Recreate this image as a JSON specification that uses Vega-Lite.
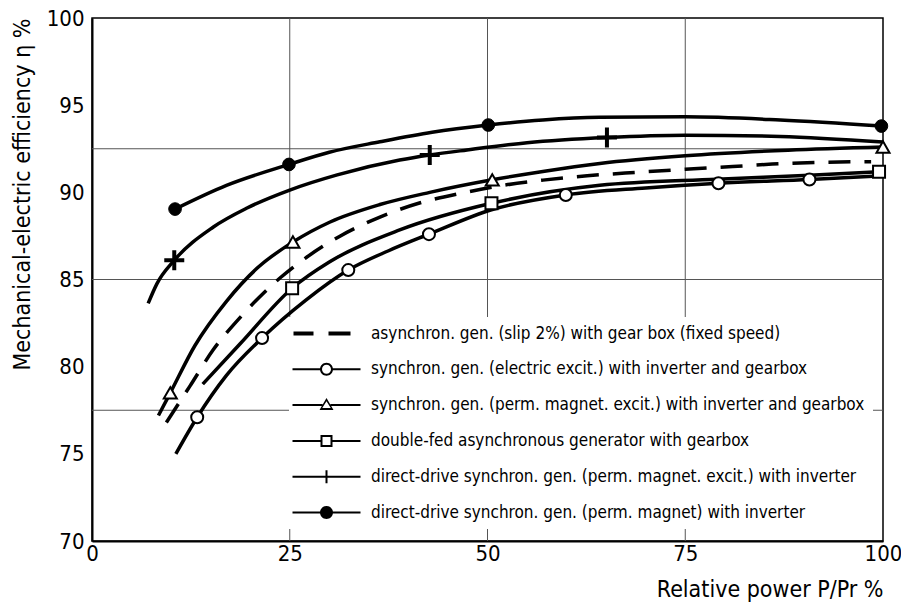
{
  "$schema": "https://vega.github.io/schema/vega-lite/v6.json",
  "width": 791,
  "height": 523,
  "autosize": {"type": "none"},
  "padding": {"left": 92, "top": 18, "right": 18, "bottom": 71},
  "background": "white",
  "config": {
    "font": "DejaVu Sans Condensed, Liberation Sans",
    "view": {"stroke": "black", "strokeWidth": 1.5},
    "axis": {
      "grid": false, "ticks": false, "tickSize": 0,
      "domainColor": "black", "domainWidth": 2,
      "labelColor": "black", "labelFont": "DejaVu Sans Condensed, Liberation Sans", "labelFontSize": 22,
      "titleFont": "DejaVu Sans Condensed, Liberation Sans", "titleFontSize": 23, "titleFontWeight": "normal", "titleColor": "black",
      "labelFlush": false, "labelOverlap": false
    }
  },
  "datasets": {
    "vgrid": [{"x": 25}, {"x": 50}, {"x": 75}],
    "hgrid": [{"y": 77.5}, {"y": 85}, {"y": 92.5}],
    "names": [
      {"series": "asynchron. gen. (slip 2%) with gear box (fixed speed)"},
      {"series": "synchron. gen. (electric excit.) with inverter and gearbox"},
      {"series": "synchron. gen. (perm. magnet. excit.) with inverter and gearbox"},
      {"series": "double-fed asynchronous generator with gearbox"},
      {"series": "direct-drive synchron. gen. (perm. magnet. excit.) with inverter"},
      {"series": "direct-drive synchron. gen. (perm. magnet) with inverter"}
    ],
    "curves": [
      {"c": "A", "x": 9.4, "y": 76.8}, {"c": "A", "x": 12.4, "y": 78.9}, {"c": "A", "x": 15.3, "y": 80.95}, {"c": "A", "x": 19, "y": 82.96}, {"c": "A", "x": 23.8, "y": 85.1}, {"c": "A", "x": 26.9, "y": 86.2}, {"c": "A", "x": 31.4, "y": 87.5}, {"c": "A", "x": 36.4, "y": 88.58}, {"c": "A", "x": 41.5, "y": 89.4}, {"c": "A", "x": 46.8, "y": 89.96}, {"c": "A", "x": 52, "y": 90.4}, {"c": "A", "x": 57, "y": 90.7}, {"c": "A", "x": 62.6, "y": 90.95}, {"c": "A", "x": 69, "y": 91.15}, {"c": "A", "x": 75, "y": 91.32}, {"c": "A", "x": 81, "y": 91.48}, {"c": "A", "x": 86, "y": 91.62}, {"c": "A", "x": 92, "y": 91.72}, {"c": "A", "x": 98.5, "y": 91.76},
      {"c": "B", "x": 10.6, "y": 75.0}, {"c": "B", "x": 13.3, "y": 77.1}, {"c": "B", "x": 17, "y": 79.5}, {"c": "B", "x": 21.5, "y": 81.64}, {"c": "B", "x": 27, "y": 83.8}, {"c": "B", "x": 32.4, "y": 85.54}, {"c": "B", "x": 37.5, "y": 86.65}, {"c": "B", "x": 42.6, "y": 87.6}, {"c": "B", "x": 50.5, "y": 89.0}, {"c": "B", "x": 59.9, "y": 89.85}, {"c": "B", "x": 70, "y": 90.25}, {"c": "B", "x": 79.2, "y": 90.52}, {"c": "B", "x": 90.7, "y": 90.74}, {"c": "B", "x": 100, "y": 90.95},
      {"c": "C", "x": 8.4, "y": 77.2}, {"c": "C", "x": 9.9, "y": 78.5}, {"c": "C", "x": 13, "y": 81.2}, {"c": "C", "x": 17, "y": 83.75}, {"c": "C", "x": 21, "y": 85.7}, {"c": "C", "x": 25.4, "y": 87.15}, {"c": "C", "x": 30.1, "y": 88.3}, {"c": "C", "x": 36.4, "y": 89.3}, {"c": "C", "x": 42.7, "y": 90.0}, {"c": "C", "x": 50.6, "y": 90.72}, {"c": "C", "x": 57, "y": 91.2}, {"c": "C", "x": 64.2, "y": 91.66}, {"c": "C", "x": 75, "y": 92.1}, {"c": "C", "x": 88, "y": 92.42}, {"c": "C", "x": 100, "y": 92.6},
      {"c": "D", "x": 14.0, "y": 79.0}, {"c": "D", "x": 18.7, "y": 81.3}, {"c": "D", "x": 25.3, "y": 84.5}, {"c": "D", "x": 30, "y": 86.0}, {"c": "D", "x": 38.9, "y": 87.84}, {"c": "D", "x": 50.5, "y": 89.37}, {"c": "D", "x": 64.2, "y": 90.4}, {"c": "D", "x": 79, "y": 90.75}, {"c": "D", "x": 90.7, "y": 90.98}, {"c": "D", "x": 99.5, "y": 91.18},
      {"c": "E", "x": 7.1, "y": 83.63}, {"c": "E", "x": 8.2, "y": 84.75}, {"c": "E", "x": 10.4, "y": 86.1}, {"c": "E", "x": 15.3, "y": 88.0}, {"c": "E", "x": 19.6, "y": 89.1}, {"c": "E", "x": 25, "y": 90.13}, {"c": "E", "x": 31, "y": 91.0}, {"c": "E", "x": 38.9, "y": 91.85}, {"c": "E", "x": 42.7, "y": 92.14}, {"c": "E", "x": 47.4, "y": 92.43}, {"c": "E", "x": 55, "y": 92.85}, {"c": "E", "x": 65.1, "y": 93.15}, {"c": "E", "x": 75, "y": 93.28}, {"c": "E", "x": 87, "y": 93.2}, {"c": "E", "x": 100, "y": 92.88},
      {"c": "F", "x": 10.5, "y": 89.04}, {"c": "F", "x": 17, "y": 90.4}, {"c": "F", "x": 24.9, "y": 91.6}, {"c": "F", "x": 30, "y": 92.3}, {"c": "F", "x": 36.4, "y": 92.9}, {"c": "F", "x": 43, "y": 93.45}, {"c": "F", "x": 50.1, "y": 93.86}, {"c": "F", "x": 57, "y": 94.15}, {"c": "F", "x": 64.2, "y": 94.3}, {"c": "F", "x": 75, "y": 94.33}, {"c": "F", "x": 87, "y": 94.15}, {"c": "F", "x": 99.8, "y": 93.8}
    ],
    "markers": [
      {"c": "B", "x": 13.3, "y": 77.1}, {"c": "B", "x": 21.5, "y": 81.64}, {"c": "B", "x": 32.4, "y": 85.54}, {"c": "B", "x": 42.6, "y": 87.6}, {"c": "B", "x": 59.9, "y": 89.85}, {"c": "B", "x": 79.2, "y": 90.52}, {"c": "B", "x": 90.7, "y": 90.74},
      {"c": "C", "x": 9.9, "y": 78.5}, {"c": "C", "x": 25.4, "y": 87.15}, {"c": "C", "x": 50.6, "y": 90.72}, {"c": "C", "x": 100, "y": 92.6},
      {"c": "D", "x": 25.3, "y": 84.5}, {"c": "D", "x": 50.5, "y": 89.37}, {"c": "D", "x": 99.5, "y": 91.18},
      {"c": "E", "x": 10.4, "y": 86.1}, {"c": "E", "x": 42.7, "y": 92.14}, {"c": "E", "x": 65.1, "y": 93.15},
      {"c": "F", "x": 10.5, "y": 89.04}, {"c": "F", "x": 24.9, "y": 91.6}, {"c": "F", "x": 50.1, "y": 93.86}, {"c": "F", "x": 99.8, "y": 93.8}
    ]
  },
  "layer": [
    {
      "data": {"name": "vgrid"},
      "mark": {"type": "rule", "stroke": "#555", "strokeWidth": 1},
      "encoding": {
        "x": {"field": "x", "type": "quantitative", "scale": {"domain": [0, 100], "nice": false, "zero": false},
          "axis": {"values": [0, 25, 50, 75, 100], "title": "Relative power P/Pr %", "titleAnchor": "end", "titlePadding": 14, "labelPadding": 2}}
      }
    },
    {
      "data": {"name": "hgrid"},
      "mark": {"type": "rule", "stroke": "#555", "strokeWidth": 1},
      "encoding": {
        "y": {"field": "y", "type": "quantitative", "scale": {"domain": [70, 100], "nice": false, "zero": false},
          "axis": {"values": [70, 75, 80, 85, 90, 95, 100], "title": "Mechanical-electric efficiency η %", "titleAnchor": "end", "titlePadding": 12, "labelPadding": 8}}
      }
    },
    {
      "encoding": {
        "x": {"field": "x", "type": "quantitative", "scale": {"domain": [0, 100], "nice": false, "zero": false},
          "axis": {"values": [0, 25, 50, 75, 100], "title": "Relative power P/Pr %", "titleAnchor": "end", "titlePadding": 14, "labelPadding": 2}},
        "y": {"field": "y", "type": "quantitative", "scale": {"domain": [70, 100], "nice": false, "zero": false},
          "axis": {"values": [70, 75, 80, 85, 90, 95, 100], "title": "Mechanical-electric efficiency η %", "titleAnchor": "end", "titlePadding": 12, "labelPadding": 8}}
      },
      "layer": [
        {
          "data": {"name": "curves"},
          "transform": [{"filter": {"field": "c", "oneOf": ["B", "C", "D", "E", "F"]}}],
          "mark": {"type": "line", "stroke": "black", "strokeWidth": 3.5, "interpolate": "monotone"},
          "encoding": {"detail": {"field": "c"}}
        },
        {
          "data": {"name": "curves"},
          "transform": [{"filter": {"field": "c", "equal": "A"}}],
          "mark": {"type": "line", "stroke": "black", "strokeWidth": 3.5, "interpolate": "monotone", "strokeDash": [22, 14]},
          "encoding": {"detail": {"field": "c"}}
        },
        {
          "data": {"name": "markers"},
          "transform": [{"filter": {"field": "c", "equal": "B"}}],
          "mark": {"type": "point", "shape": "circle", "size": 144, "filled": true, "fill": "white", "stroke": "black", "strokeWidth": 2, "opacity": 1}
        },
        {
          "data": {"name": "markers"},
          "transform": [{"filter": {"field": "c", "equal": "C"}}],
          "mark": {"type": "point", "shape": "triangle-up", "size": 170, "filled": true, "fill": "white", "stroke": "black", "strokeWidth": 2, "opacity": 1}
        },
        {
          "data": {"name": "markers"},
          "transform": [{"filter": {"field": "c", "equal": "D"}}],
          "mark": {"type": "point", "shape": "square", "size": 144, "filled": true, "fill": "white", "stroke": "black", "strokeWidth": 2, "opacity": 1}
        },
        {
          "data": {"name": "markers"},
          "transform": [{"filter": {"field": "c", "equal": "E"}}],
          "mark": {"type": "point", "shape": "M-1,0H1M0,-1V1", "size": 400, "filled": false, "stroke": "black", "strokeWidth": 4, "opacity": 1}
        },
        {
          "data": {"name": "markers"},
          "transform": [{"filter": {"field": "c", "equal": "F"}}],
          "mark": {"type": "point", "shape": "circle", "size": 160, "filled": true, "fill": "black", "stroke": "black", "strokeWidth": 1, "opacity": 1}
        }
      ]
    },
    {
      "data": {"name": "names"},
      "mark": {"type": "point", "opacity": 0, "filled": true, "color": "black", "strokeWidth": 0},
      "encoding": {
        "shape": {
          "field": "series", "type": "nominal",
          "scale": {
            "domain": [
              "asynchron. gen. (slip 2%) with gear box (fixed speed)",
              "synchron. gen. (electric excit.) with inverter and gearbox",
              "synchron. gen. (perm. magnet. excit.) with inverter and gearbox",
              "double-fed asynchronous generator with gearbox",
              "direct-drive synchron. gen. (perm. magnet. excit.) with inverter",
              "direct-drive synchron. gen. (perm. magnet) with inverter"
            ],
            "range": [
              "M-6.6,-0.4H-2.6V0.4H-6.6ZM0.4,-0.4H4.8V0.4H0.4Z",
              "M-6.8,-0.2H-1.2V0.2H-6.8ZM1.2,-0.2H6.8V0.2H1.2ZM1.3,0A1.3,1.3,0,1,1,-1.3,0A1.3,1.3,0,1,1,1.3,0ZM0.9,0A0.9,0.9,0,1,0,-0.9,0A0.9,0.9,0,1,0,0.9,0Z",
              "M-6.8,-0.2H-0.8V0.2H-6.8ZM0.8,-0.2H6.8V0.2H0.8ZM0,-1.4L1.4,1L-1.4,1ZM0,-0.75L-0.85,0.6L0.85,0.6Z",
              "M-6.8,-0.2H-1.2V0.2H-6.8ZM1.2,-0.2H6.8V0.2H1.2ZM-1.2,-1.2H1.2V1.2H-1.2ZM-0.8,-0.8V0.8H0.8V-0.8Z",
              "M-6.8,-0.2H6.8V0.2H-6.8ZM-0.2,-1.3H0.2V1.3H-0.2Z",
              "M-6.8,-0.2H6.8V0.2H-6.8ZM1.3,0A1.3,1.3,0,1,1,-1.3,0A1.3,1.3,0,1,1,1.3,0Z"
            ]
          },
          "legend": {"title": null, "orient": "none", "legendX": 197, "legendY": 299, "direction": "vertical", "fillColor": "white", "padding": 8, "symbolOffset": 21, "labelOffset": 36, "labelFontSize": 17, "labelFont": "DejaVu Sans Condensed, Liberation Sans", "labelColor": "black", "labelLimit": 700, "symbolSize": 100, "symbolFillColor": "black", "symbolStrokeWidth": 0, "symbolOpacity": 1, "rowPadding": 17.8}
        }
      }
    }
  ]
}
